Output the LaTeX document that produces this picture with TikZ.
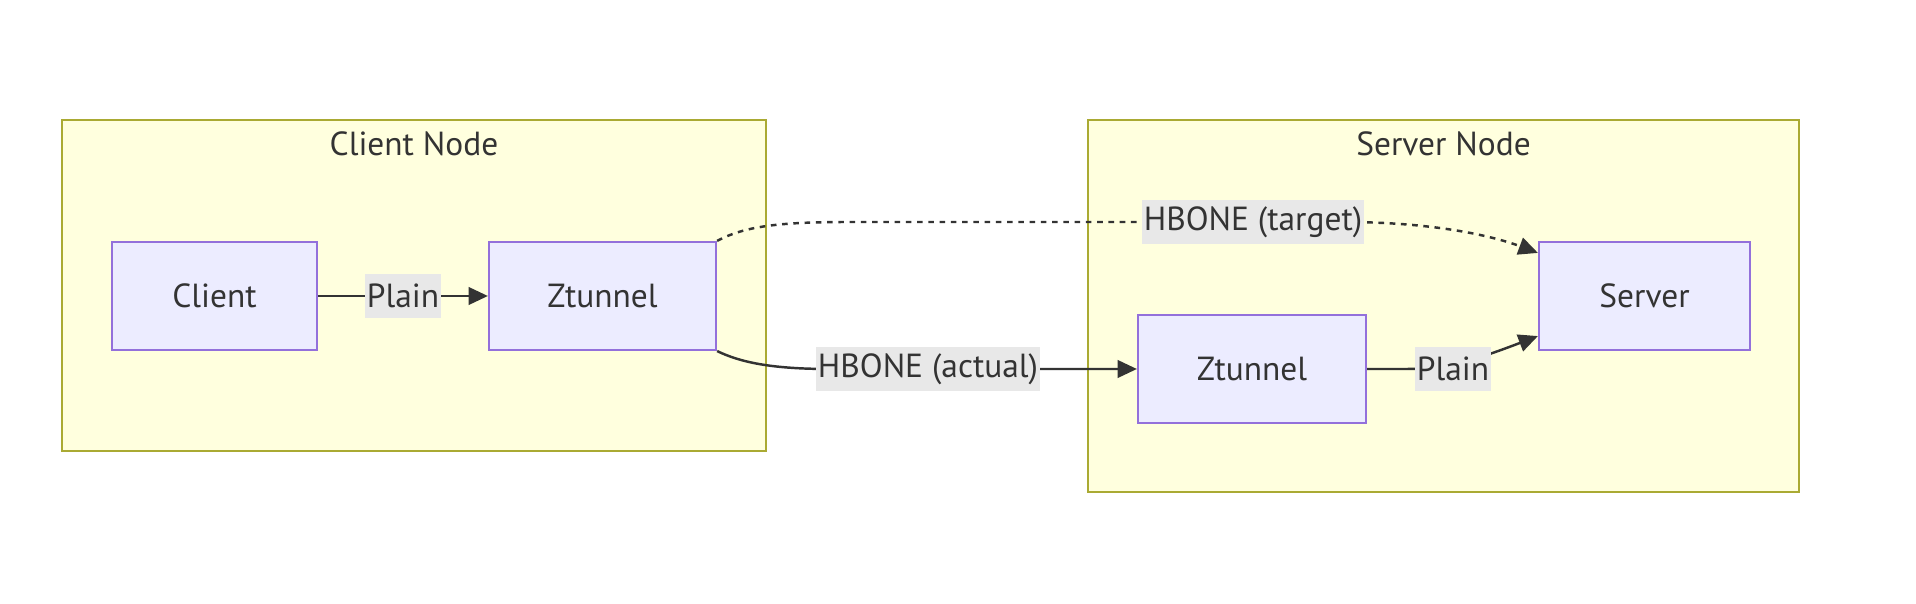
\documentclass[tikz,border=0pt]{standalone}
\usepackage{fontspec}
\setmainfont{PT Sans}
\usetikzlibrary{arrows.meta,calc}
\definecolor{clfill}{HTML}{FFFFDE}
\definecolor{clborder}{HTML}{AAAA33}
\definecolor{ndfill}{HTML}{ECECFF}
\definecolor{ndborder}{HTML}{9370DB}
\definecolor{txt}{HTML}{333333}
\definecolor{lblbg}{HTML}{E8E8E8}
\begin{document}
\begin{tikzpicture}[x=0.01cm,y=-0.01cm,
  cluster/.style={draw=clborder, fill=clfill, line width=0.6pt, inner sep=0pt},
  box/.style={draw=ndborder, fill=ndfill, line width=0.6pt, text=txt, inner sep=0pt,
    minimum height=1.08cm, font=\fontsize{9.5}{11}\selectfont},
  title/.style={text=txt, inner sep=0pt, font=\fontsize{9.5}{11}\selectfont},
  lbl/.style={fill=lblbg, text=txt, inner xsep=0.5pt, inner ysep=0pt, minimum height=0.44cm,
    font=\fontsize{9.5}{11}\selectfont},
  edge/.style={draw=txt, line width=0.7pt, -{Triangle[length=5.5pt,width=5pt]}},
  dotedge/.style={edge, dash pattern=on 1.6pt off 1.6pt},
]
\useasboundingbox (0,0) rectangle (1916,604);
% clusters
\node[cluster, minimum width=7.04cm, minimum height=3.31cm] (cn) at (414,285.5) {};
\node[cluster, minimum width=7.11cm, minimum height=3.72cm] (sn) at (1443.5,306) {};
\node[title] (cnt) at (414,144) {Client Node};
\node[title] (snt) at (1443.5,144) {Server Node};
% nodes
\node[box, minimum width=2.05cm] (client) at (214.5,296) {Client};
\node[box, minimum width=2.27cm] (zt1) at (602.5,296) {Ztunnel};
\node[box, minimum width=2.11cm] (srv) at (1644.5,296) {Server};
\node[box, minimum width=2.28cm] (zt2) at (1252,369) {Ztunnel};
% label anchors
\coordinate (lpc1) at (403,296);
\coordinate (ltc) at (1253,222);
\coordinate (lac) at (928,369);
\coordinate (lpc2) at (1453,369);
% edges
\draw[edge] (client.east) -- (zt1.west);
\draw[dotedge] (zt1.north east) .. controls (745,226) and (780,222) .. (850,222)
  -- (ltc) -- (1343,222) .. controls (1430,222) and (1490,235) .. ($(srv.north west)+(0,12)$);
\draw[edge] (zt1.south east) .. controls (740,362) and (770,369) .. (830,369) -- (zt2.west);
\draw[edge] (zt2.east) -- (1405,369) .. controls (1445,369) and (1470,362) .. ($(srv.south west)+(0,-15)$);
% labels
\node[lbl] (lp1) at (lpc1) {Plain};
\node[lbl] (lt) at (ltc) {HBONE (target)};
\node[lbl] (la) at (lac) {HBONE (actual)};
\node[lbl] (lp2) at (lpc2) {Plain};
\end{tikzpicture}
\end{document}
